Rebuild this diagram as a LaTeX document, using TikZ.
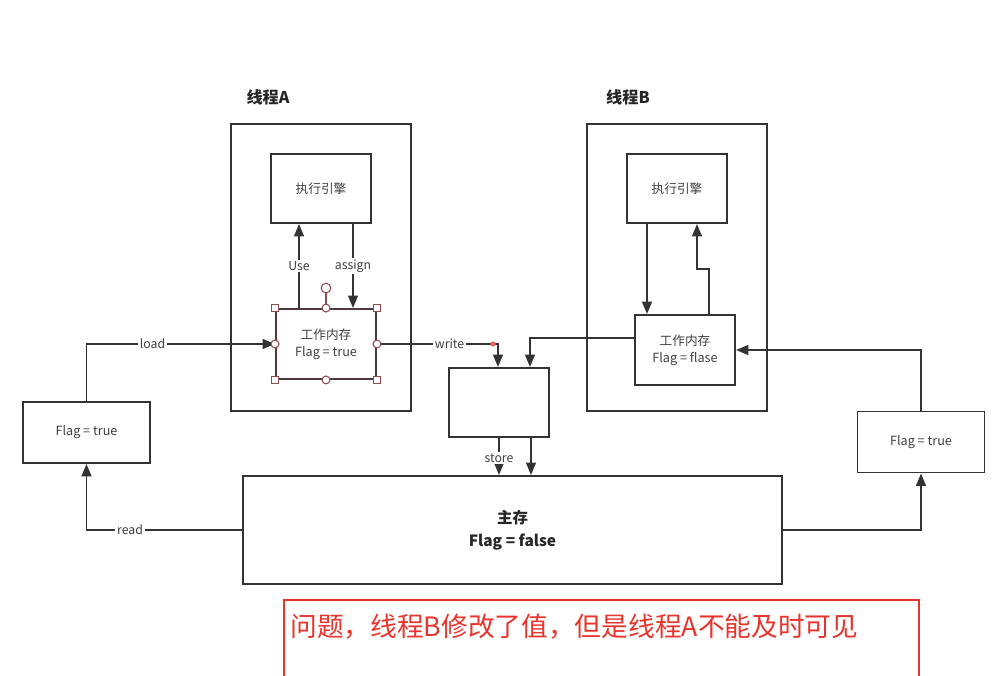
\documentclass[tikz,border=0pt]{standalone}
\usepackage{fontspec}
\setmainfont{Noto Sans CJK SC}
\usetikzlibrary{arrows.meta, calc, positioning}
\definecolor{cLine}{HTML}{333333}
\definecolor{cWarn}{HTML}{E8342C}
\definecolor{cSel}{HTML}{8E4A4F}
\newcommand\fsBox{\fontsize{7.2pt}{9.6pt}\selectfont}
\newcommand\fsLbl{\fontsize{7pt}{8pt}\selectfont}
\newcommand\fsTitle{\fontsize{9.2pt}{11pt}\selectfont}
\newcommand\fsMain{\fontsize{8.8pt}{13pt}\selectfont}
\newcommand\fsWarn{\fontsize{15.2pt}{18pt}\selectfont}
\tikzset{
    box/.style={draw=cLine, line width=1.1pt, align=center, font=\fsBox,
                text=black!75, inner sep=2pt},
    thr/.style={box, minimum width=3.6cm, minimum height=5.74cm},
    eng/.style={box, minimum width=2cm, minimum height=1.38cm},
    wmem/.style={box, minimum width=2cm, minimum height=1.4cm},
    flagbox/.style={box, minimum width=2.54cm, minimum height=1.22cm},
    chan/.style={-{Triangle[length=7pt, width=5.5pt]}, line width=1.1pt, cLine},
    chname/.style={font=\fsLbl, fill=white, text=black!75, inner sep=1pt},
    title/.style={font=\fsTitle\bfseries, text=black!85},
    hsq/.style={draw=cSel, fill=white, line width=0.6pt, minimum size=4pt, inner sep=0pt},
    hci/.style={hsq, circle, minimum size=4.5pt},
}

\begin{document}
\begin{tikzpicture}[x=0.02cm, y=-0.02cm]
\useasboundingbox (0,0) rectangle (998,676);

\node[title] (tA) at (268,97) {线程A};
\node[title] (tB) at (628,97) {线程B};

% thread A
\node[thr] (thA) at (321,267.5) {};
\node[eng] (exA) at (321,188.5) {执行引擎};
\node[wmem, draw=cSel!30!cLine] (wmA) at (326,344) {工作内存\\Flag = true};

% thread B
\node[thr] (thB) at (677,267.5) {};
\node[eng] (exB) at (677,188.5) {执行引擎};
\node[wmem] (wmB) at (685,350) {工作内存\\Flag = flase};

\node[flagbox] (lfA) at (86.5,432.5) {Flag = true};
\node[flagbox] (rfB) at (921,442) {Flag = true};
\node[eng] (mid) at (499,402.5) {};
\node[box, minimum width=10.78cm, minimum height=2.16cm, font=\fsMain\bfseries,
      text=black!85] (main) at (512.5,530) {主存\\Flag = false};

% A: engine <-> working memory
\draw[chan] ([xshift=-0.54cm]wmA.north) -- ([xshift=-0.54cm]wmA.north |- exA.south)
    node[chname, midway] {Use};
\draw[chan] ([xshift=0.54cm]wmA.north |- exA.south) -- ([xshift=0.54cm]wmA.north)
    node[chname, midway] {assign};

% B: engine <-> working memory
\draw[chan] ([xshift=-0.6cm]exB.south) -- ([xshift=-0.6cm]exB.south |- wmB.north);
\draw[chan] ([xshift=0.48cm]wmB.north) -- ++(0,0.9cm) -| ([xshift=0.4cm]exB.south);

% main memory <-> threads
\draw[chan] (lfA.north) |- (wmA.west) node[chname, pos=0.675] {load};
\draw[chan] (main.west) -| (lfA.south) node[chname, pos=0.36] {read};
\draw[chan] (wmA.east) -| ([xshift=-0.02cm]mid.north) node[chname, pos=0.3] {write};
\node[circle, fill=cWarn!75, inner sep=0pt, minimum size=3pt] (wpt)
    at ($(wmA.east -| mid.north)+(-6,0)$) {};
\draw[chan] ([yshift=0.24cm]wmB.west) -| ([xshift=0.62cm]mid.north);
\draw[chan] (mid.south) -- (mid.south |- main.north) node[chname, pos=0.54] {store};
\draw[chan] ([xshift=0.64cm]mid.south) -- ([xshift=0.64cm]mid.south |- main.north);
\draw[chan] (rfB.north) |- (wmB.east);
\draw[chan] (main.east) -| (rfB.south);

% selection handles
\node[hci, minimum size=5.5pt] (rot) at ($(wmA.north)+(0,-20)$) {};
\draw[cSel, line width=0.6pt] (wmA.north) -- (rot.south);
\foreach \a in {north west, north east, south west, south east}
    \node[hsq] at (wmA.\a) {};
\foreach \a in {north, south, east, west}
    \node[hci] at (wmA.\a) {};

% note
\draw[cWarn, line width=1.1pt] (284,600) rectangle (919,700);
\node[anchor=west, font=\fsWarn, text=cWarn, inner sep=0pt] (warn) at (290,627)
    {问题，线程B修改了值，但是线程A不能及时可见};

\end{tikzpicture}
\end{document}
